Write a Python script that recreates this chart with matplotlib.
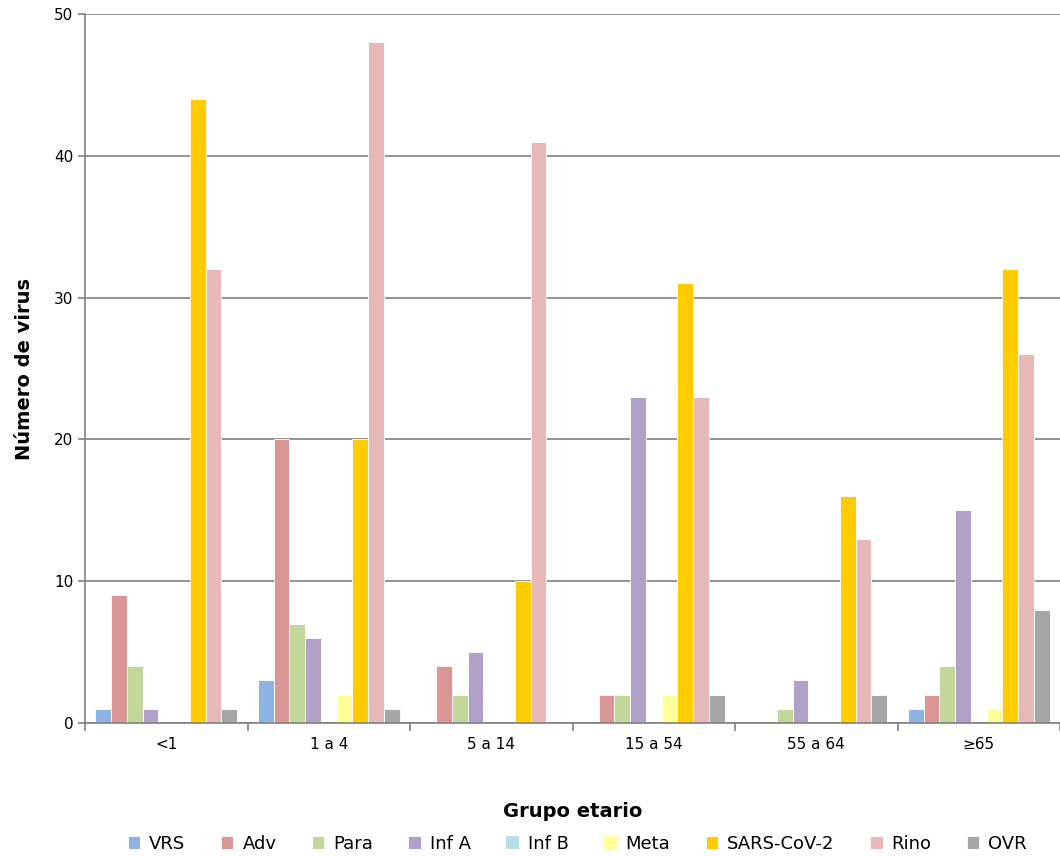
import matplotlib
matplotlib.use("Agg")
import matplotlib.pyplot as plt
import numpy as np

groups = ["<1", "1 a 4", "5 a 14", "15 a 54", "55 a 64", "≥65"]
series = ["VRS", "Adv", "Para", "Inf A", "Inf B", "Meta", "SARS-CoV-2", "Rino", "OVR"]
values = {
    "VRS":        [1, 3, 0, 0, 0, 1],
    "Adv":        [9, 20, 4, 2, 0, 2],
    "Para":       [4, 7, 2, 2, 1, 4],
    "Inf A":      [1, 6, 5, 23, 3, 15],
    "Inf B":      [0, 0, 0, 0, 0, 0],
    "Meta":       [0, 2, 0, 2, 0, 1],
    "SARS-CoV-2": [44, 20, 10, 31, 16, 32],
    "Rino":       [32, 48, 41, 23, 13, 26],
    "OVR":        [1, 1, 0, 2, 2, 8],
}
colors = ["#8DB4E2", "#DA9694", "#C4D79B", "#B1A0C7", "#B7DEE8", "#FFFF99", "#FFCC00", "#E6B9B8", "#A6A6A6"]

fig = plt.figure(figsize=(10.6, 8.56), dpi=100)
ax = fig.add_axes([85/1060, 1-723/856, 975/1060, (723-14)/856])
x = np.arange(len(groups))
w = 0.097
for i, s in enumerate(series):
    v = np.array(values[s], dtype=float)
    lw = np.where(v > 0, 0.6, 0.0)
    ax.bar(x + (i - 4) * w, v, w, color=colors[i], label=s, edgecolor="white", linewidth=lw, zorder=3)

ax.set_xlim(-0.5, len(groups) - 0.5)
ax.set_ylim(0, 50)
ax.set_yticks(range(0, 51, 10))
ax.yaxis.grid(True, color="#808080", linewidth=1.2, zorder=0)
ax.set_xticks(x)
ax.set_xticklabels(groups, fontsize=11)
ax.tick_params(axis="x", length=0, pad=10)
ax.set_xticks(np.arange(-0.5, len(groups), 1), minor=True)
ax.tick_params(axis="x", which="minor", length=6, color="#808080", width=1.2)
ax.tick_params(axis="y", length=5, color="#808080", width=1.2, labelsize=11)
for sp in ["top", "right"]:
    ax.spines[sp].set_visible(False)
for sp in ["left", "bottom"]:
    ax.spines[sp].set_color("#808080")
    ax.spines[sp].set_linewidth(1.2)
ax.spines["bottom"].set_zorder(4)
ax.set_ylabel("Número de virus", fontsize=14, fontweight="bold", labelpad=14)
ax.set_xlabel("Grupo etario", fontsize=14, fontweight="bold", labelpad=36)
ax.legend(loc="center", bbox_to_anchor=(0.505, -0.17), ncol=9, frameon=False,
          fontsize=13, handlelength=0.7, handleheight=0.7, columnspacing=1.95, handletextpad=0.5)
fig.savefig("out.png", dpi=100)
